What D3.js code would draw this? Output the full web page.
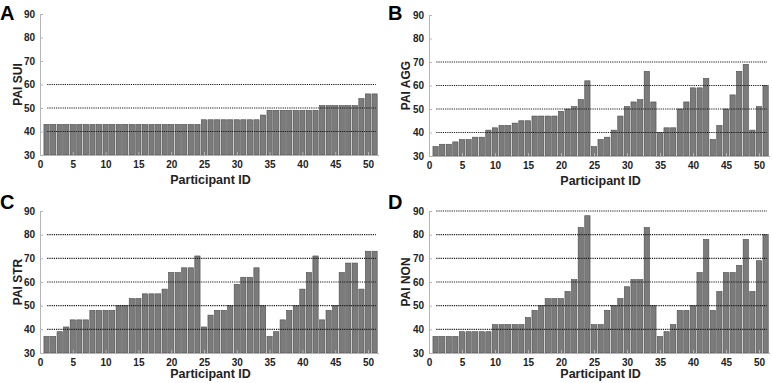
<!DOCTYPE html>
<html>
<head>
<meta charset="utf-8">
<script src="https://cdn.jsdelivr.net/npm/d3@7"></script>
<style>
  html, body { margin: 0; padding: 0; background: #fff; }
  svg { display: block; font-family: "Liberation Sans", Arial, sans-serif; }
</style>
</head>
<body>
<svg id="chart" width="772" height="383"></svg>
<script>
const participants = d3.range(1, 52);
const sui = [43,43,43,43,43,43,43,43,43,43,43,43,43,43,43,43,43,43,43,43,43,43,43,43,
             45,45,45,45,45,45,45,45,45,47,49,49,49,49,49,49,49,49,51,51,51,51,51,51,54,56,56];
const agg = [34,35,35,36,37,37,38,38,41,42,43,43,44,45,45,47,47,47,47,49,50,51,54,62,
             34,37,38,41,47,51,53,54,66,53,40,42,42,50,53,59,59,63,37,43,50,56,66,69,41,51,60];
const str = [37,37,39,41,44,44,44,48,48,48,48,50,50,53,53,55,55,55,57,64,64,66,66,71,
             41,46,48,48,50,59,62,62,66,50,37,39,44,48,50,57,64,71,44,48,50,64,68,68,57,73,73];
const non = [37,37,37,37,39,39,39,39,39,42,42,42,42,42,45,48,50,53,53,53,56,61,83,88,
             42,42,48,50,53,58,61,61,83,50,37,39,42,48,48,50,64,78,48,56,64,64,67,78,56,69,80];
const yTicks = [30,40,50,60,70,80,90];
const xTicks = [0,5,10,15,20,25,30,35,40,45,50];

const panels = [
  {letter:"A", label:"PAI SUI", values:sui, refs:[40,50,60], x0:40, x50:368, yTop:14, yBot:155, lx:0, ly:20, tOff:29},
  {letter:"B", label:"PAI AGG", values:agg, refs:[40,50,60,70], x0:429, x50:759, yTop:15, yBot:156, lx:388, ly:20, tOff:29},
  {letter:"C", label:"PAI STR", values:str, refs:[40,50,60,70,80], x0:40, x50:368, yTop:211, yBot:353, lx:0, ly:209, tOff:25},
  {letter:"D", label:"PAI NON", values:non, refs:[40,50,60,70,80,90], x0:429, x50:759, yTop:211, yBot:353, lx:388, ly:209, tOff:25}
];

const svg = d3.select("#chart");

panels.forEach(p => {
  const k = (p.x50 - p.x0) / 50;
  const x = d3.scaleLinear().domain([0, 51.6]).range([p.x0, p.x0 + 51.6 * k]);
  const y = d3.scaleLinear().domain([30, 90]).range([p.yBot, p.yTop]);
  const g = svg.append("g");

  // bars
  g.selectAll("rect.bar").data(p.values).enter().append("rect")
    .attr("class", "bar")
    .attr("x", (d, i) => x(participants[i] - 0.4))
    .attr("width", x(0.8) - x(0))
    .attr("y", d => y(d))
    .attr("height", d => y(30) - y(d))
    .attr("fill", "#7b7b7b")
    .attr("stroke", "#4a4a4a")
    .attr("stroke-width", 0.6);

  // dotted reference lines
  g.selectAll("line.ref").data(p.refs).enter().append("line")
    .attr("class", "ref")
    .attr("x1", x(1.1)).attr("x2", x(51.2))
    .attr("y1", d => y(d)).attr("y2", d => y(d))
    .attr("stroke", "#1a1a1a")
    .attr("stroke-width", 1.1)
    .attr("stroke-dasharray", "1.2,1");

  // axes
  const yAxis = d3.axisLeft(y).tickValues(yTicks).tickSize(-3).tickPadding(5).tickSizeOuter(0);
  const xAxis = d3.axisBottom(x).tickValues(xTicks).tickSize(-3).tickPadding(6).tickSizeOuter(0);

  const ya = g.append("g").attr("transform", `translate(${p.x0},0)`).call(yAxis);
  const xa = g.append("g").attr("transform", `translate(0,${p.yBot})`).call(xAxis);
  [ya, xa].forEach(a => {
    a.select(".domain").attr("stroke", "#b5b5b5").attr("stroke-width", 1);
    a.selectAll(".tick line").attr("stroke", "#b5b5b5");
    a.selectAll(".tick text")
      .attr("fill", "#222")
      .style("font-size", "10px")
      .style("font-weight", "bold");
  });

  // axis titles
  g.append("text")
    .attr("transform", `translate(${p.lx + 22},${(p.yTop + p.yBot) / 2}) rotate(-90)`)
    .attr("text-anchor", "middle")
    .attr("fill", "#222")
    .style("font-size", "12px")
    .style("font-weight", "bold")
    .text(p.label);

  g.append("text")
    .attr("x", x(26))
    .attr("y", p.yBot + p.tOff)
    .attr("text-anchor", "middle")
    .attr("fill", "#222")
    .style("font-size", "12.5px")
    .style("font-weight", "bold")
    .text("Participant ID");

  // panel letter
  g.append("text")
    .attr("x", p.lx)
    .attr("y", p.ly)
    .attr("fill", "#000")
    .style("font-size", "20px")
    .style("font-weight", "bold")
    .text(p.letter);
});
</script>
</body>
</html>
